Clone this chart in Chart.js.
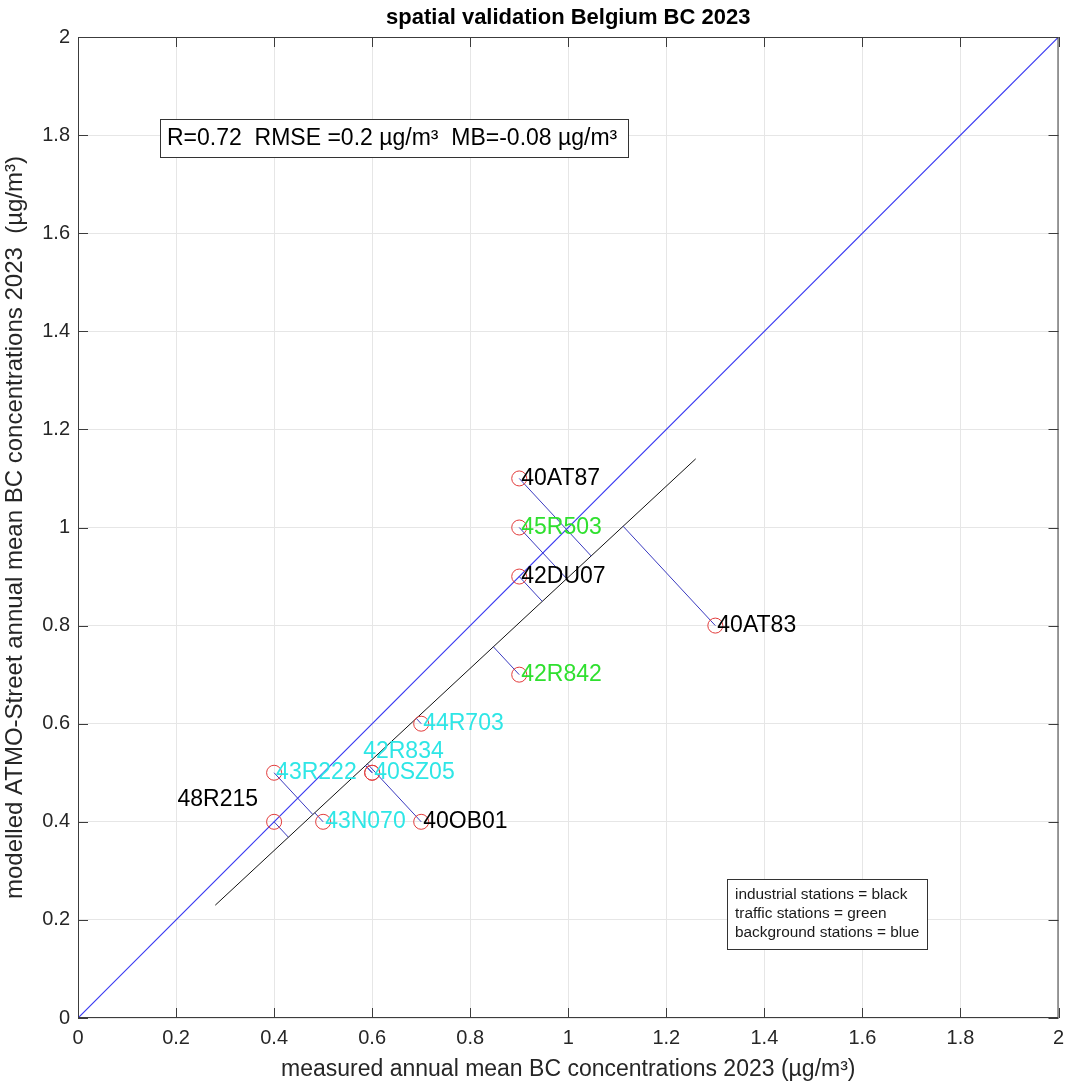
<!DOCTYPE html>
<html>
<head>
<meta charset="utf-8">
<title>spatial validation Belgium BC 2023</title>
<script src="https://cdn.jsdelivr.net/npm/chart.js@4.4.1/dist/chart.umd.min.js"></script>
<style>
  html, body { margin: 0; padding: 0; background: #fff; }
  #wrap { width: 1067px; height: 1084px; }
</style>
</head>
<body>
<div id="wrap"><canvas id="chart"></canvas></div>
<script>
// station data: measured vs modelled annual mean BC (µg/m³)
const stations = ['40AT87', '45R503', '42DU07', '40AT83', '42R842', '44R703', '42R834', '40SZ05', '43R222', '48R215', '43N070', '40OB01'];
const measured = [0.9, 0.9, 0.9, 1.3, 0.9, 0.7, 0.6, 0.6, 0.4, 0.4, 0.5, 0.7];
const modelled = [1.1, 1.0, 0.9, 0.8, 0.7, 0.6, 0.5, 0.5, 0.5, 0.4, 0.4, 0.4];
const stationType = ['industrial', 'traffic', 'industrial', 'industrial', 'traffic', 'background', 'background', 'background', 'background', 'industrial', 'background', 'industrial'];

// orthogonal fit line end points
const fitX = [0.28, 1.26];
const fitY = [0.23, 1.14];

// 1:1 line
const oneToOneX = [0, 2];
const oneToOneY = [0, 2];

const axisTicks = [0, 0.2, 0.4, 0.6, 0.8, 1, 1.2, 1.4, 1.6, 1.8, 2];

const chartTitle = 'spatial validation Belgium BC 2023';
const statsText = 'R=0.72  RMSE =0.2 \u00b5g/m\u00b3  MB=-0.08 \u00b5g/m\u00b3';
const legendLines = ['industrial stations = black', 'traffic stations = green', 'background stations = blue'];

const FONT = "Arial, 'Liberation Sans', Helvetica, sans-serif";
const typeColors = { industrial: '#000000', traffic: '#2fe02f', background: '#2ee6e6' };

// a few labels were nudged so they don't sit on top of each other (pixels)
const labelNudge = {
  '48R215': { dx: -16, dy: -22, align: 'right' },
  '42R834': { dx: -9, dy: -21, align: 'left' }
};

// foot of the perpendicular from each station onto the fit line
const dirX = fitX[1] - fitX[0], dirY = fitY[1] - fitY[0];
const dirLen2 = dirX * dirX + dirY * dirY;
function footOnFit(x, y) {
  const t = ((x - fitX[0]) * dirX + (y - fitY[0]) * dirY) / dirLen2;
  return { x: fitX[0] + t * dirX, y: fitY[0] + t * dirY };
}

const datasets = [];
datasets.push({
  data: oneToOneX.map((x, i) => ({ x, y: oneToOneY[i] })),
  showLine: true, borderColor: '#3838f2', backgroundColor: 'rgba(0,0,0,0)', borderWidth: 1.1, pointRadius: 0, order: 3
});
datasets.push({
  data: fitX.map((x, i) => ({ x, y: fitY[i] })),
  showLine: true, borderColor: '#111111', backgroundColor: 'rgba(0,0,0,0)', borderWidth: 1, pointRadius: 0, order: 3
});
stations.forEach((s, i) => {
  datasets.push({
    data: [{ x: measured[i], y: modelled[i] }, footOnFit(measured[i], modelled[i])],
    showLine: true, borderColor: '#3a3ac0', backgroundColor: 'rgba(0,0,0,0)', borderWidth: 1, pointRadius: 0, order: 2
  });
});
datasets.push({
  data: measured.map((x, i) => ({ x, y: modelled[i] })),
  showLine: false, pointStyle: 'circle', pointRadius: 7.5, pointBorderWidth: 1,
  borderColor: '#e23b3b', backgroundColor: 'rgba(0,0,0,0)',
  pointBorderColor: '#e23b3b', pointBackgroundColor: 'rgba(0,0,0,0)', order: 1
});

// plot box, inner ticks, title, station labels and the two text boxes
const decorations = {
  id: 'decorations',
  afterDatasetsDraw(chart) {
    const { ctx, chartArea: a, scales: { x, y } } = chart;
    ctx.save();

    // title centred over the axes
    ctx.fillStyle = '#000';
    ctx.font = 'bold 22px ' + FONT;
    ctx.textAlign = 'center';
    ctx.textBaseline = 'middle';
    ctx.fillText(chartTitle, (a.left + a.right) / 2, 18);

    // station names
    ctx.font = '23px ' + FONT;
    stations.forEach((s, i) => {
      const n = labelNudge[s] || { dx: 2, dy: 0, align: 'left' };
      ctx.fillStyle = typeColors[stationType[i]];
      ctx.textAlign = n.align;
      ctx.fillText(s, x.getPixelForValue(measured[i]) + n.dx, y.getPixelForValue(modelled[i]) + n.dy);
    });

    // axes box
    ctx.strokeStyle = '#3c3c3c';
    ctx.lineWidth = 1;
    ctx.strokeRect(a.left + 0.5, a.top + 0.5, a.right - a.left - 1, a.bottom - a.top - 1);

    // ticks pointing inwards on all four sides
    const tl = 10;
    ctx.beginPath();
    axisTicks.forEach(v => {
      const px = Math.round(x.getPixelForValue(v)) + 0.5;
      ctx.moveTo(px, a.bottom); ctx.lineTo(px, a.bottom - tl);
      ctx.moveTo(px, a.top); ctx.lineTo(px, a.top + tl);
      const py = Math.round(y.getPixelForValue(v)) + 0.5;
      ctx.moveTo(a.left, py); ctx.lineTo(a.left + tl, py);
      ctx.moveTo(a.right, py); ctx.lineTo(a.right - tl, py);
    });
    ctx.stroke();

    // statistics box
    ctx.textAlign = 'left';
    ctx.fillStyle = '#fff';
    ctx.fillRect(a.left + 82, a.top + 82, 468, 38);
    ctx.strokeStyle = '#333';
    ctx.strokeRect(a.left + 82.5, a.top + 82.5, 468, 38);
    ctx.fillStyle = '#000';
    ctx.font = '23px ' + FONT;
    ctx.fillText(statsText, a.left + 89, a.top + 102);

    // station type key
    ctx.fillStyle = '#fff';
    ctx.fillRect(a.left + 649, a.top + 842, 200, 70);
    ctx.strokeStyle = '#333';
    ctx.strokeRect(a.left + 649.5, a.top + 842.5, 200, 70);
    ctx.fillStyle = '#1a1a1a';
    ctx.font = '15.4px ' + FONT;
    legendLines.forEach((t, i) => ctx.fillText(t, a.left + 657, a.top + 858 + i * 19));

    ctx.restore();
  }
};

const tickFormat = v => String(Number(v.toFixed(1)));

new Chart(document.getElementById('chart'), {
  type: 'scatter',
  data: { datasets },
  options: {
    responsive: true,
    maintainAspectRatio: false,
    animation: false,
    layout: { padding: { left: 0, right: 8, top: 37, bottom: 0 } },
    scales: {
      x: {
        type: 'linear', min: 0, max: 2,
        afterBuildTicks: s => { s.ticks = axisTicks.map(value => ({ value })); },
        afterFit: s => { s.height = 66; s.paddingLeft = 0; s.paddingRight = 0; },
        grid: { color: '#e6e6e6', drawTicks: false },
        border: { display: false },
        ticks: { padding: 8, color: '#262626', font: { family: FONT, size: 20 }, callback: tickFormat, maxRotation: 0 },
        title: { display: true, text: 'measured annual mean BC concentrations 2023 (\u00b5g/m\u00b3)', color: '#262626', font: { family: FONT, size: 23 }, padding: { top: 0, bottom: 1 } }
      },
      y: {
        type: 'linear', min: 0, max: 2,
        afterBuildTicks: s => { s.ticks = axisTicks.map(value => ({ value })); },
        afterFit: s => { s.width = 78; s.paddingTop = 0; s.paddingBottom = 0; },
        grid: { color: '#e6e6e6', drawTicks: false },
        border: { display: false },
        ticks: { padding: 8, color: '#262626', font: { family: FONT, size: 20 }, callback: tickFormat },
        title: { display: true, text: 'modelled ATMO-Street annual mean BC concentrations 2023  (\u00b5g/m\u00b3)', color: '#262626', font: { family: FONT, size: 24 }, padding: { top: 1, bottom: 0 } }
      }
    },
    plugins: {
      legend: { display: false },
      tooltip: { enabled: false },
      title: { display: false }
    }
  },
  plugins: [decorations]
});
</script>
</body>
</html>
